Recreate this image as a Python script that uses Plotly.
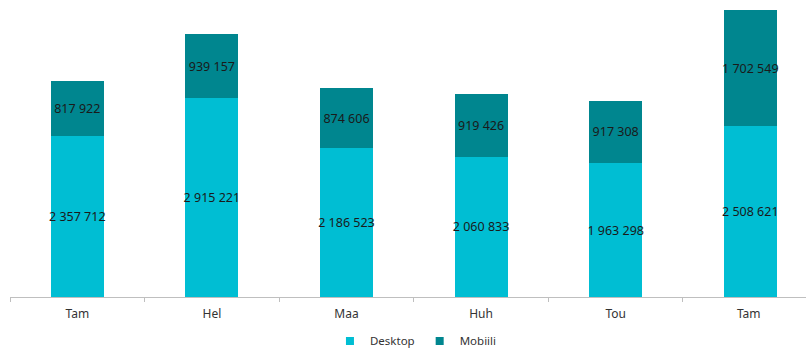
import plotly.graph_objects as go

categories = ["Tam", "Hel", "Maa", "Huh", "Tou", "Tam "]
desktop = [2357712, 2915221, 2186523, 2060833, 1963298, 2508621]
mobiili = [817922, 939157, 874606, 919426, 917308, 1702549]
series_names = ["Desktop", "Mobiili"]
colors = ["#00BED3", "#00868F"]

def fmt(v):
    return f"{v:,}".replace(",", " ")

common_text = dict(size=12.5, color="#1a1a1a", family="Noto Sans")

fig = go.Figure()
for name, vals, col in zip(series_names, [desktop, mobiili], colors):
    fig.add_trace(go.Bar(
        name=name, x=categories, y=vals, showlegend=False, legendgroup=name,
        text=[fmt(v) for v in vals], textposition="inside", textangle=0,
        insidetextanchor="middle", constraintext="none",
        textfont=common_text, insidetextfont=common_text,
        marker=dict(color=col, line=dict(width=0)),
    ))
for name, col in zip(series_names, colors):
    fig.add_trace(go.Scatter(
        name=name, x=[None], y=[None], mode="markers", legendgroup=name,
        marker=dict(symbol="square", size=8, color=col),
    ))
fig.update_layout(
    barmode="stack", bargap=0.605,
    width=806, height=349,
    margin=dict(l=10, r=0, t=0, b=52, autoexpand=False),
    plot_bgcolor="white", paper_bgcolor="white",
    font=dict(family="Noto Sans", color="#333333", size=12),
    xaxis=dict(
        range=[-0.5, 5.414], showline=True, linecolor="#BFBFBF", linewidth=1,
        ticks="outside", tickson="boundaries", ticklen=4, tickcolor="#BFBFBF",
        tickfont=dict(size=12, color="#333333"), showgrid=False, automargin=False,
        ticklabelstandoff=6,
    ),
    yaxis=dict(range=[0, 4357900], visible=False, showgrid=False, automargin=False),
    legend=dict(
        orientation="h", x=0.51, xanchor="center", y=-0.148, yanchor="middle",
        font=dict(size=11.5, color="#333333"), traceorder="normal",
        itemwidth=30,
    ),
    showlegend=True,
)
fig.write_html("out.html")
